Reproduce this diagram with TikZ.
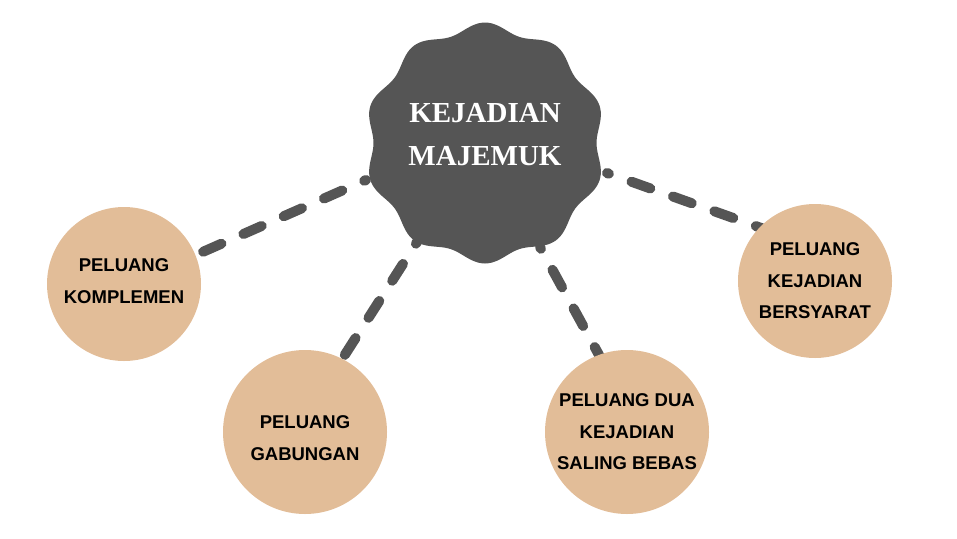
\documentclass[tikz,border=0pt]{standalone}
\usepackage{fontspec}
\setmainfont{Liberation Serif}
\newfontfamily\sansfont{Liberation Sans}
\usetikzlibrary{backgrounds}
\definecolor{abu}{HTML}{555555}
\definecolor{krem}{HTML}{E2BD98}

\tikzset{
    bulat/.style={circle, fill=krem, inner sep=0pt, align=center, font=\sansfont\bfseries\fontsize{18.5}{31.5}\selectfont},
    putus/.style={draw=abu, line width=10pt, line cap=round, dash pattern=on 20pt off 24pt, dash phase=18pt, shorten >=-10pt},
}

\begin{document}
\begin{tikzpicture}[x=1pt,y=-1pt]
    \useasboundingbox (0,0) rectangle (957,538);
    \fill[abu, shift={(485,143)}] plot[smooth cycle, domain=0:357, samples=120] (\x:{116+4.5*cos(10*(\x-90))});
    \node[text=white, font=\bfseries\fontsize{29}{43}\selectfont, align=center] (judul) at (485,135) {KEJADIAN\\MAJEMUK};

    \coordinate (ujung1) at (366,180);
    \coordinate (ujung2) at (417,242);
    \coordinate (ujung3) at (540,247);
    \coordinate (ujung4) at (607,173);

    \node[bulat, minimum size=154pt] (komplemen) at (124,284) {PELUANG\\KOMPLEMEN\rule[-6pt]{0pt}{6pt}};
    \node[bulat, minimum size=164pt] (gabungan) at (305,432) {\rule{0pt}{25pt}PELUANG\\GABUNGAN};
    \node[bulat, minimum size=164pt] (bebas) at (627,432) {PELUANG DUA\\KEJADIAN\\SALING BEBAS};
    \node[bulat, minimum size=154pt] (bersyarat) at (815,281) {PELUANG\\KEJADIAN\\BERSYARAT};

    \begin{scope}[on background layer]
        \draw[putus] (ujung1) -- (komplemen.22);
        \draw[putus] (ujung2) -- (gabungan.63);
        \draw[putus] (ujung3) -- (bebas.110);
        \draw[putus] (ujung4) -- (bersyarat.136);
    \end{scope}
\end{tikzpicture}
\end{document}
